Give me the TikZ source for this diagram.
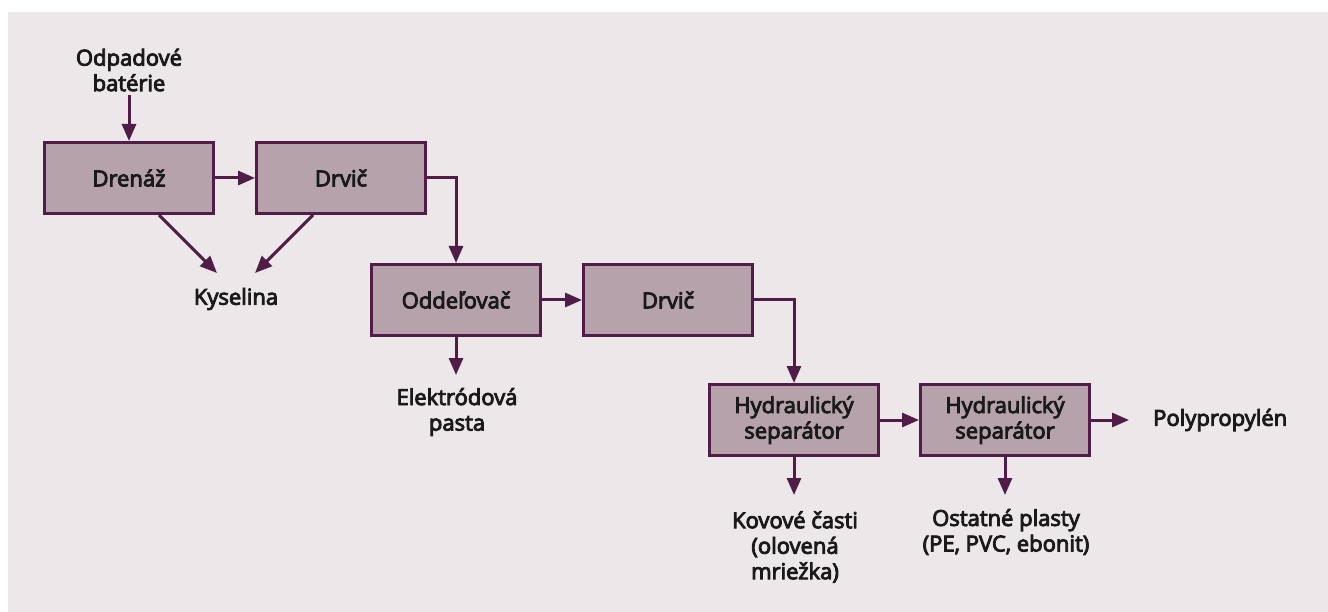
\documentclass[tikz,border=0pt]{standalone}
\usepackage{fontspec}
\setmainfont{Open Sans}
\newfontfamily\labelfont{Open Sans}[FakeBold=4]
\usetikzlibrary{arrows.meta,calc}
\definecolor{bgpanel}{HTML}{ECE7E8}
\definecolor{boxfill}{HTML}{B5A2AB}
\definecolor{plum}{HTML}{4F1D47}
\definecolor{ink}{HTML}{1A1A1A}
\begin{document}
\begin{tikzpicture}[x=1pt,y=-1pt,
  font=\labelfont\fontsize{22}{25.5}\selectfont,
  stage/.style={draw=plum, fill=boxfill, line width=3pt,
    minimum width=169pt, minimum height=71pt, inner sep=0pt,
    align=center, text=ink},
  label/.style={align=center, text=ink, inner sep=0pt},
  arr/.style={draw=plum, line width=3pt,
    -{Triangle[length=17pt,width=14pt]}}]
  \useasboundingbox (0,0) rectangle (1328,612);
  \fill[bgpanel] (8,12) rectangle (1328,612);

  % process stages
  \node[stage] (dren) at (129,178) {Drenáž};
  \node[stage] (drv1) at (341,178) {Drvič};
  \node[stage] (odd)  at (456,300) {Oddeľovač};
  \node[stage] (drv2) at (668,300) {Drvič};
  \node[stage] (hyd1) at (794,420) {Hydraulický\\separátor};
  \node[stage] (hyd2) at (1005,420) {Hydraulický\\separátor};

  % inputs and products
  \node[label] (bat)  at (129,70)  {Odpadové\\batérie};
  \node[label] (kys)  at (236,299) {Kyselina};
  \node[label] (ele)  at (457,412) {Elektródová\\pasta};
  \node[label] (kov)  at (795,547) {Kovové časti\\(olovená\\mriežka)};
  \node[label] (ost)  at (1006,532) {Ostatné plasty\\(PE, PVC, ebonit)};
  \node[label,anchor=west] (pp) at (1153,420) {Polypropylén};

  % flow
  \draw[arr, shorten <=4pt] (bat.south) -- (dren.north);
  \draw[arr] (dren.east) -- (drv1.west);
  \draw[arr] ($(dren.south)+(30,0)$) -- ($(kys.center)+(-19,-26)$);
  \draw[arr] ($(drv1.south)+(-28,0)$) -- ($(kys.center)+(19,-26)$);
  \draw[arr] (drv1.east) -| (odd.north);
  \draw[arr] (odd.east) -- (drv2.west);
  \draw[arr] (odd.south) -- ($(odd.south)+(0,38)$);
  \draw[arr] (drv2.east) -| (hyd1.north);
  \draw[arr] (hyd1.east) -- (hyd2.west);
  \draw[arr] (hyd2.east) -- ($(hyd2.east)+(38,0)$);
  \draw[arr] (hyd1.south) -- ($(hyd1.south)+(0,38)$);
  \draw[arr] (hyd2.south) -- ($(hyd2.south)+(0,38)$);
\end{tikzpicture}
\end{document}
